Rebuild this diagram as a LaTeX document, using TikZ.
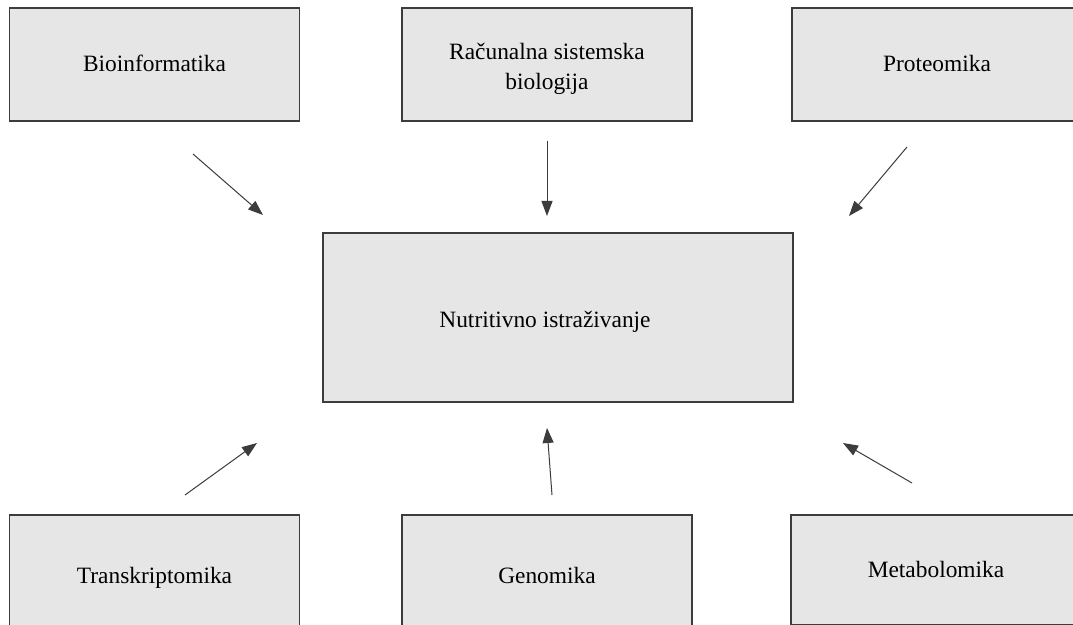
\documentclass[tikz,border=0pt]{standalone}
\usepackage{fontspec}
\setmainfont{Liberation Serif}
\usetikzlibrary{arrows.meta}
\definecolor{boxgray}{HTML}{E6E6E6}
\definecolor{edgegray}{HTML}{3C3C3C}
\begin{document}
\begin{tikzpicture}[x=0.5pt, y=-0.5pt,
  field/.style={draw=edgegray, fill=boxgray, line width=0.7pt,
    minimum width=145pt, minimum height=56.5pt, align=center,
    text height=10pt, text depth=2.6pt,
    font=\fontsize{11.7}{15}\selectfont},
  fieldtext/.style={font=\fontsize{11.7}{15}\selectfont, align=center},
  flow/.style={draw=edgegray, line width=0.5pt,
    -{Triangle[length=7.5pt, width=5.5pt]}}]
  \clip (0,0) rectangle (1073,625);
  \fill[white] (0,0) rectangle (1073,625);
  % outer fields
  \node[field] (bio) at (154.5,64.5) {Bioinformatika};
  \node[field, label={[fieldtext, yshift=-2pt]center:Računalna sistemska\\biologija}] (sys) at (547,64.5) {};
  \node[field] (prot) at (937,64.5) {Proteomika};
  \node[field, minimum height=61pt] (trans) at (154.5,576) {Transkriptomika};
  \node[field, minimum height=61pt] (gen) at (547,576) {Genomika};
  \node[field, minimum height=55pt] (meta) at (936,570) {Metabolomika};
  % centre
  \node[field, minimum width=235pt, minimum height=84.5pt,
    label={[fieldtext, xshift=-6.5pt, yshift=-2pt]center:Nutritivno istraživanje}] (nut) at (558,317.5) {};
  % arrows
  \foreach \N/\SX/\SY/\EX/\EY in {bio/193/154/263/215, sys/547/141/547/216,
      prot/907/147/849/216, trans/185/495/257/443, gen/552/495/547/428,
      meta/912/483/843/443} {
    \coordinate (\N-s) at (\SX,\SY);
    \coordinate (\N-e) at (\EX,\EY);
    \draw[flow] (\N-s) -- (\N-e);
  }
\end{tikzpicture}
\end{document}
